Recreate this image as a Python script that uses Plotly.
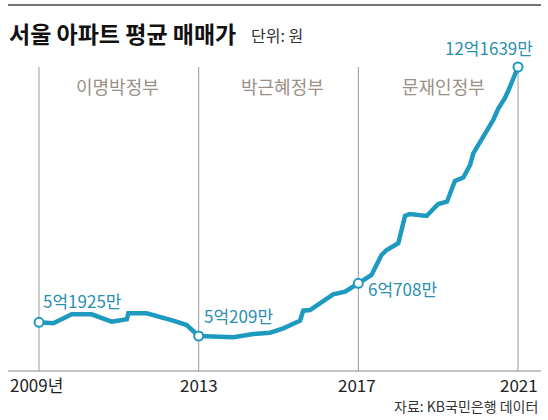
import plotly.graph_objects as go

W, H = 548, 420
FONT = "Noto Sans CJK KR"
TEAL = "#1e9ac0"
TEAL_TXT = "#2a8fb0"

# 서울 아파트 평균 매매가 (만원)
years = [2009.0, 2009.36, 2009.82, 2010.32, 2010.82, 2011.20, 2011.24, 2011.70, 2012.36, 2012.70, 2013.0,
         2013.37, 2013.87, 2014.37, 2014.79, 2015.12, 2015.54, 2015.62, 2015.79, 2016.37, 2016.67, 2017.0,
         2017.33, 2017.58, 2017.71, 2018.00, 2018.17, 2018.29, 2018.71, 2019.00, 2019.22, 2019.42,
         2019.63, 2019.80, 2019.88, 2020.13, 2020.38, 2020.51, 2020.67, 2020.80, 2020.92, 2021.0]
prices = [53847, 53581, 55971, 55971, 54006, 54643, 56237, 56237, 54272, 53130, 50209,
          50023, 49864, 50740, 51085, 52254, 54272, 56927, 57113, 61282, 61972, 64203,
          66407, 71718, 73045, 74825, 82074, 82605, 82074, 85260, 85871, 91368,
          92297, 95616, 98723, 103131, 107566, 110672, 113328, 116408, 119966, 121639]

key_idx = [0, 10, 21, 41]
key_labels = ["5억1925만", "5억209만", "6억708만", "12억1639만"]

eras = ["이명박정부", "박근혜정부", "문재인정부"]
tick_years = [2009, 2013, 2017, 2021]
tick_labels = ["2009년", "2013", "2017", "2021"]


# pixel <-> axis helpers (plot area covers the whole figure)
px_per_year = (518 - 39) / 12
x_range = [2009 - 39 / px_per_year, 2021 + (W - 518) / px_per_year]
per_px = (121639 - 50209) / (336 - 67)
y_range = [50209 - (H - 336) * per_px, 121639 + 67 * per_px]


def px(x):
    return x / W


def py(y):
    return 1 - y / H


fig = go.Figure()

fig.add_trace(go.Scatter(
    x=years, y=prices, mode="lines",
    line=dict(color=TEAL, width=4.5),
    hoverinfo="skip", showlegend=False,
))
fig.add_trace(go.Scatter(
    x=[years[i] for i in key_idx], y=[prices[i] for i in key_idx],
    mode="markers",
    marker=dict(size=9, color="white", line=dict(color=TEAL, width=2)),
    cliponaxis=False, showlegend=False,
))

# frame lines
fig.add_shape(type="line", xref="paper", yref="paper",
              x0=px(8), x1=px(541), y0=py(5), y1=py(5),
              line=dict(color="#444444", width=1.5))
fig.add_shape(type="line", xref="paper", yref="paper",
              x0=px(8), x1=px(541), y0=py(371), y1=py(371),
              line=dict(color="#8a8a8a", width=1))
for yr in tick_years:
    fig.add_shape(type="line", xref="x", yref="paper", layer="below",
                  x0=yr, x1=yr, y0=py(67), y1=py(371),
                  line=dict(color="#9a9a9a", width=1))

ann = []
ann.append(dict(text="서울 아파트 평균 매매가", x=px(8), y=py(33), xanchor="left",
                font=dict(size=23, color="#111111", weight=700)))
ann.append(dict(text="단위: 원", x=px(250), y=py(35), xanchor="left",
                font=dict(size=16, color="#333333")))
for name, cx in zip(eras, [117, 282, 443]):
    ann.append(dict(text=name, x=px(cx), y=py(86), xanchor="center",
                    font=dict(size=18, color="#9a9088")))

label_pos = [(42, 300, "left"), (203, 315, "left"), (367, 288, "left"), (489, 47, "center")]
for txt, (lx, ly, anc) in zip(key_labels, label_pos):
    ann.append(dict(text=txt, x=px(lx), y=py(ly), xanchor=anc,
                    font=dict(size=17, color=TEAL_TXT)))

tick_pos = [(9, "left"), (199, "center"), (357, "center"), (539, "right")]
for txt, (tx, anc) in zip(tick_labels, tick_pos):
    ann.append(dict(text=txt, x=px(tx), y=py(384.5), xanchor=anc,
                    font=dict(size=17, color="#222222")))

ann.append(dict(text="자료: KB국민은행 데이터", x=px(539), y=py(406), xanchor="right",
                font=dict(size=14, color="#333333")))

for a in ann:
    a.update(xref="paper", yref="paper", yanchor="middle", showarrow=False, borderpad=0)

fig.update_layout(
    width=W, height=H,
    margin=dict(l=0, r=0, t=0, b=0),
    paper_bgcolor="white", plot_bgcolor="white",
    font=dict(family=FONT),
    xaxis=dict(range=x_range, visible=False, fixedrange=True),
    yaxis=dict(range=y_range, visible=False, fixedrange=True),
    annotations=ann,
)

fig.write_html("out.html", config={"displayModeBar": False},
               post_script="document.body.style.margin='0';")
